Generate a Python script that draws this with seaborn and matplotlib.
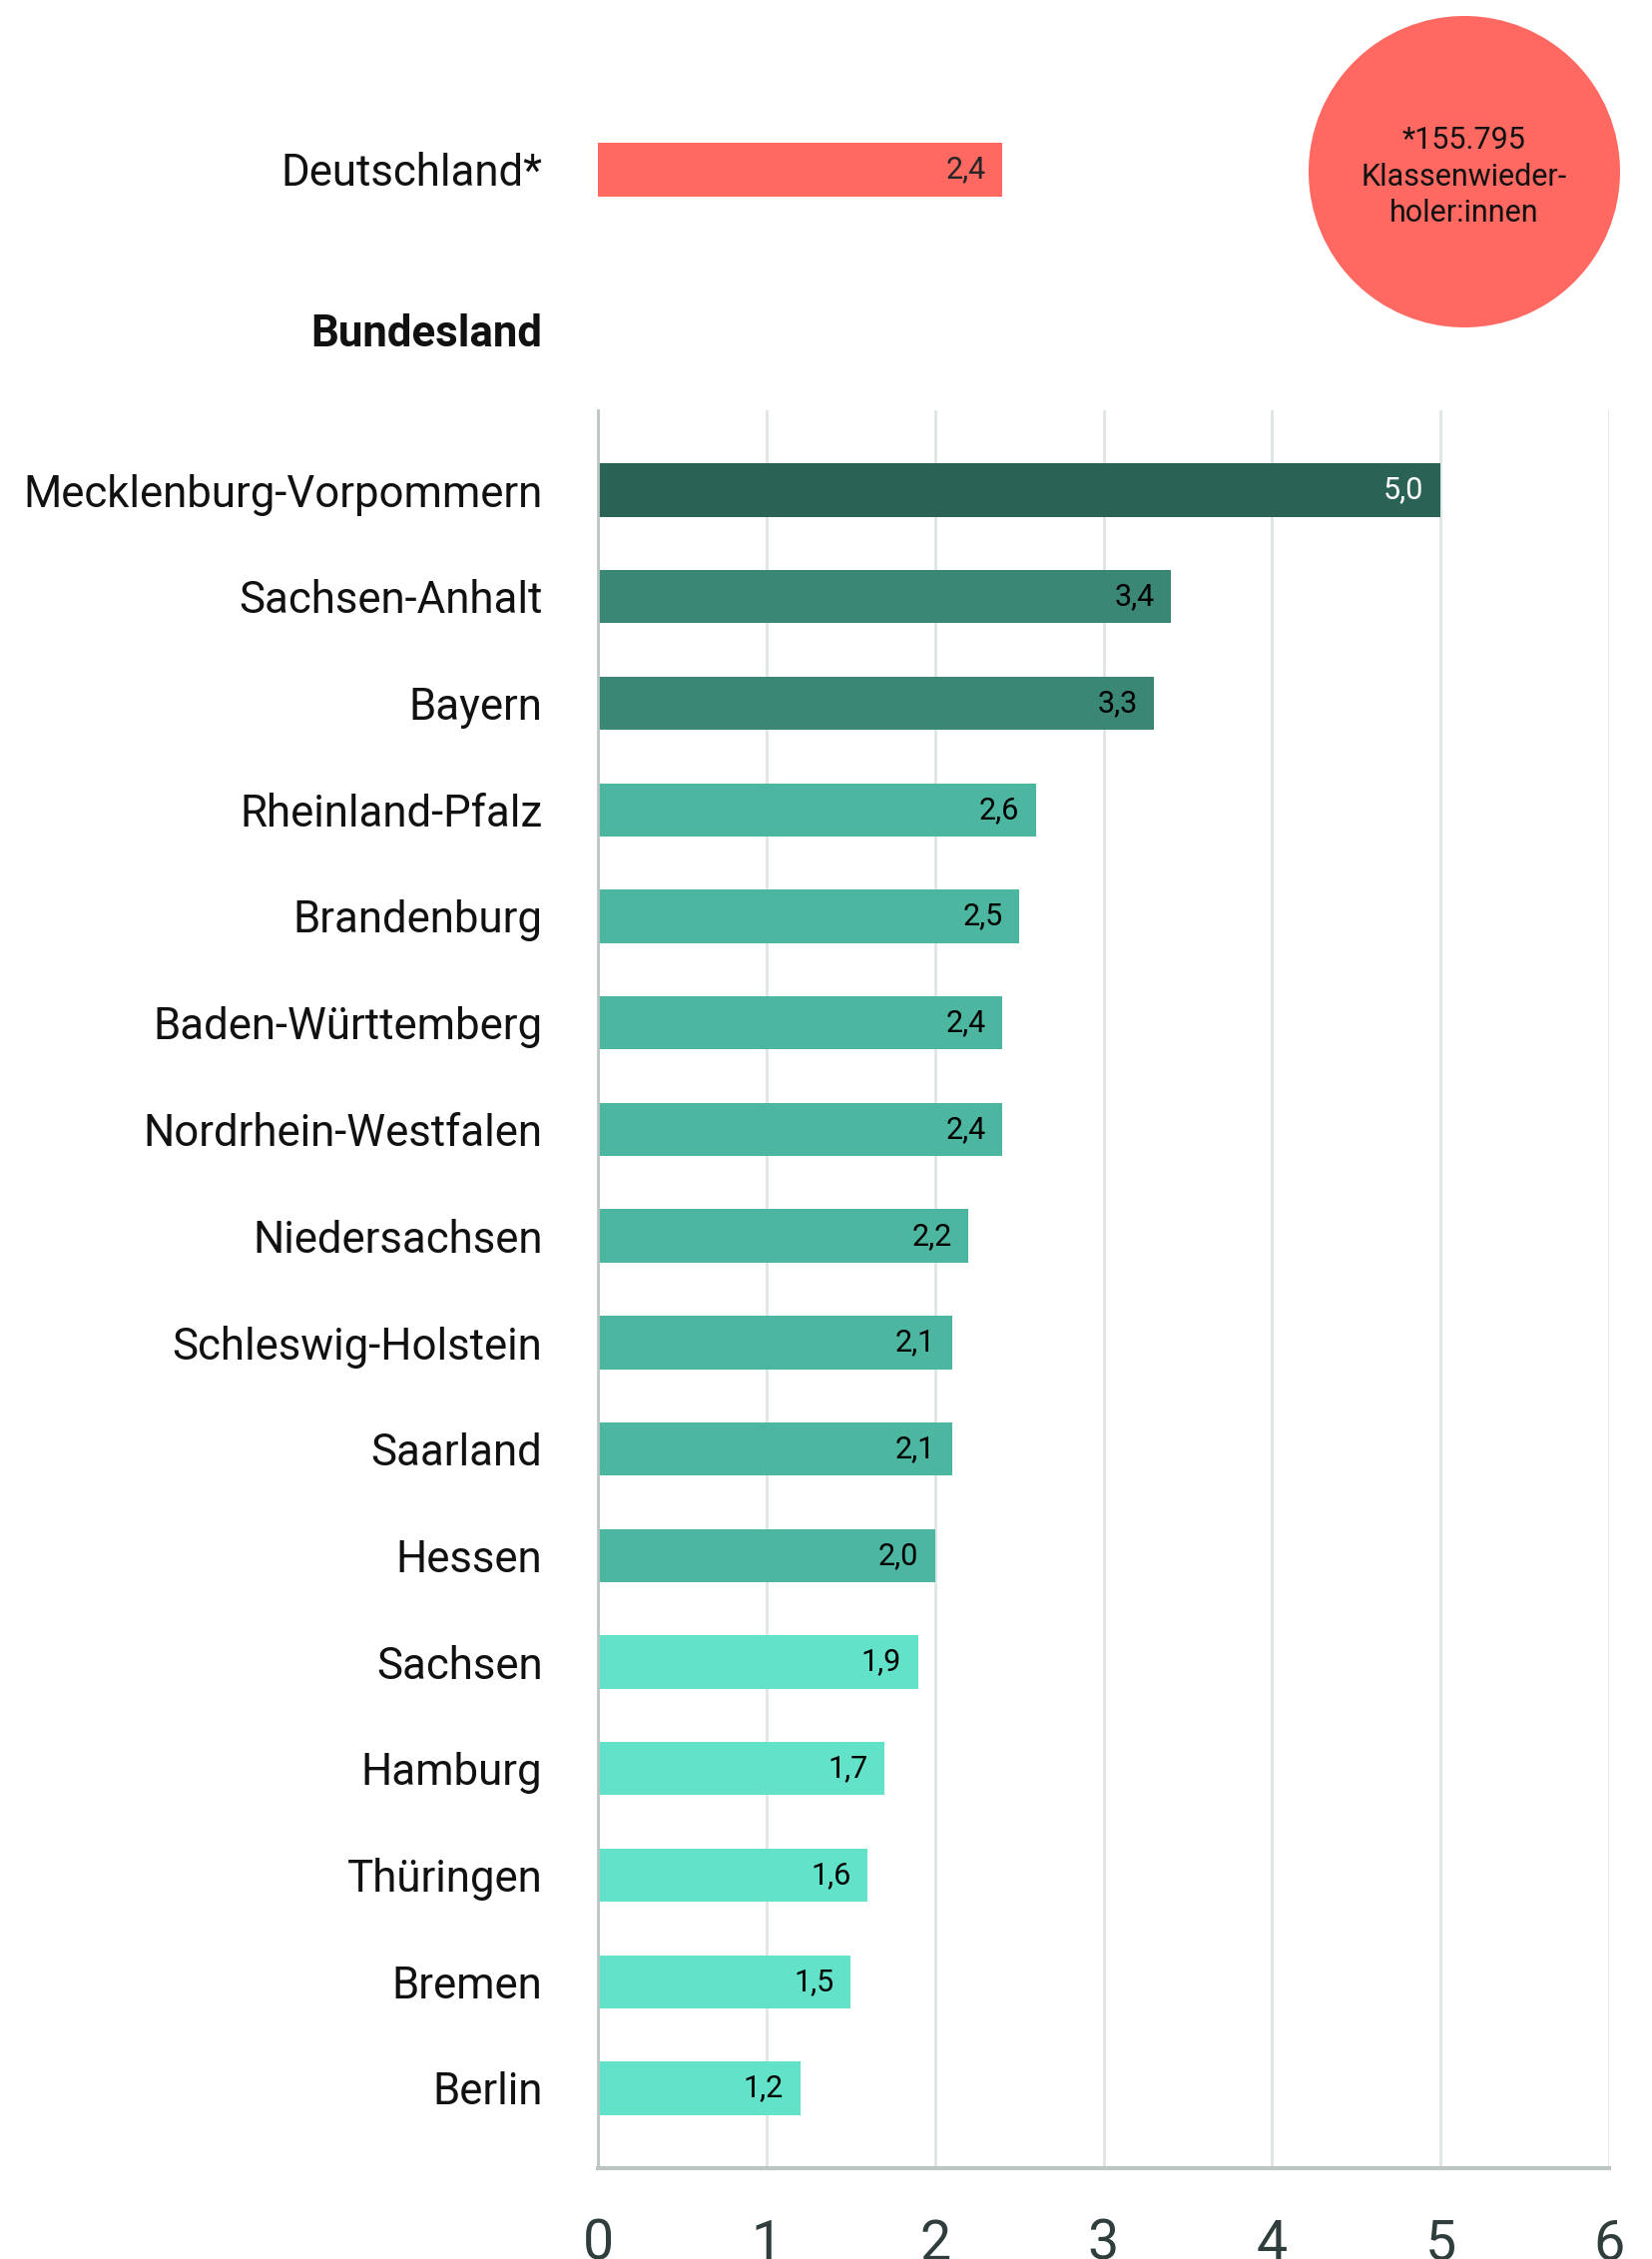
import matplotlib
matplotlib.use("Agg")
from matplotlib import pyplot as plt
from matplotlib.patches import Circle
import numpy as np
import pandas as pd
import seaborn as sns

# Data
laender = ["Mecklenburg-Vorpommern", "Sachsen-Anhalt", "Bayern", "Rheinland-Pfalz",
           "Brandenburg", "Baden-Württemberg", "Nordrhein-Westfalen", "Niedersachsen",
           "Schleswig-Holstein", "Saarland", "Hessen", "Sachsen", "Hamburg",
           "Thüringen", "Bremen", "Berlin"]
quote = [5.0, 3.4, 3.3, 2.6, 2.5, 2.4, 2.4, 2.2, 2.1, 2.1, 2.0, 1.9, 1.7, 1.6, 1.5, 1.2]
farben = ["#2A6355", "#3A8776", "#3A8776", "#4DB6A0", "#4DB6A0", "#4DB6A0", "#4DB6A0",
          "#4DB6A0", "#4DB6A0", "#4DB6A0", "#4DB6A0", "#62E3C9", "#62E3C9", "#62E3C9",
          "#62E3C9", "#62E3C9"]
deutschland_label = "Deutschland*"
deutschland_wert = 2.4
deutschland_farbe = "#FF6961"
kreis_text = "*155.795\nKlassenwieder-\nholer:innen"
x_ticks = [0, 1, 2, 3, 4, 5, 6]

sns.set_style("white")
plt.rcParams['font.family'] = ['Roboto', 'DejaVu Sans']

def fmt(v):
    return f"{v:.1f}".replace(".", ",")

W, H = 1655, 2263
fig = plt.figure(figsize=(W / 100, H / 100), dpi=100)

# Main axes
left, right = 599 / W, 1612 / W
ax = fig.add_axes([left, 1 - 2172 / H, right - left, (2172 - 411) / H])
df = pd.DataFrame({"land": laender, "wert": quote})
sns.barplot(data=df, x="wert", y="land", hue="land", palette=farben, legend=False,
            orient="h", width=0.5, ax=ax, edgecolor="none", saturation=1)
ax.set_xlim(0, 6)
ax.set_ylim(len(laender) - 0.25, -0.75)
ax.set_xticks(x_ticks)
ax.set_xticklabels([str(t) for t in x_ticks])
ax.set_xlabel("")
ax.set_ylabel("")
ax.grid(axis="x", color="#DFE5E5", linewidth=2)
ax.set_axisbelow(True)
for s in ["top", "right"]:
    ax.spines[s].set_visible(False)
ax.spines["left"].set_color("#BCC4C4")
ax.spines["left"].set_linewidth(2)
ax.spines["bottom"].set_color("#BCC4C4")
ax.spines["bottom"].set_linewidth(3)
ax.tick_params(axis="x", length=0, labelsize=40, pad=36, labelcolor="#2F3D3D")
ax.tick_params(axis="y", length=0, labelsize=31.5, pad=40, labelcolor="#111111")

for i, v in enumerate(quote):
    col = "white" if v >= 4.5 else "black"
    ax.annotate(fmt(v), xy=(v, i), xytext=(-12, 0), textcoords="offset points",
                ha="right", va="center", fontsize=22, color=col)

# Deutschland bar
ax_de = fig.add_axes([left, 1 - 223.5 / H, right - left, 107 / H])
sns.barplot(x=[deutschland_wert], y=[deutschland_label], color=deutschland_farbe,
            orient="h", width=0.5, ax=ax_de, edgecolor="none", saturation=1)
ax_de.set_xlim(0, 6)
ax_de.set_ylim(0.5, -0.5)
ax_de.set_xticks([])
ax_de.set_xlabel("")
ax_de.set_ylabel("")
for s in ax_de.spines.values():
    s.set_visible(False)
ax_de.tick_params(axis="y", length=0, labelsize=31.5, pad=40, labelcolor="#111111")
ax_de.annotate(fmt(deutschland_wert), xy=(deutschland_wert, 0), xytext=(-12, 0),
               textcoords="offset points", ha="right", va="center", fontsize=22)

fig.text(543 / W, 1 - 335 / H, "Bundesland", ha="right", va="center",
         fontsize=31.5, fontweight="bold", color="#111111")

# Circle annotation
r = 156
ax_c = fig.add_axes([(1467 - 160) / W, 1 - (172 + 160) / H, 320 / W, 320 / H])
ax_c.set_xlim(-160, 160)
ax_c.set_ylim(-160, 160)
ax_c.set_aspect("equal")
ax_c.axis("off")
ax_c.add_patch(Circle((0, 0), r, color=deutschland_farbe, ec="none"))
ax_c.text(0, -5, kreis_text, ha="center", va="center", fontsize=22,
          linespacing=1.33, color="#111111")

fig.savefig("out.png", dpi=100)
